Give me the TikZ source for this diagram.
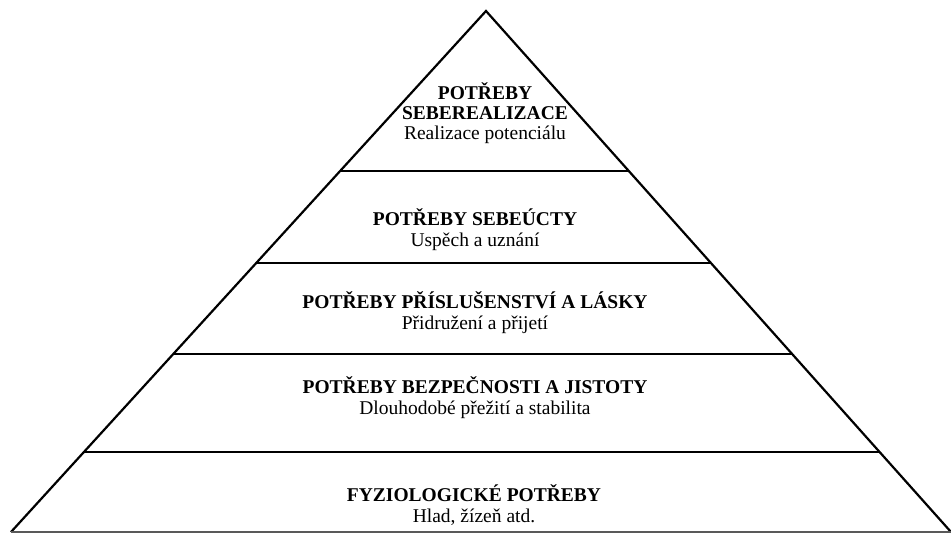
\documentclass[tikz,border=0pt]{standalone}
\usepackage{fontspec}
\setmainfont{Liberation Serif}
\usetikzlibrary{calc}
\tikzset{
  edge/.style={line width=2.2pt, black},
  baseedge/.style={line width=1.6pt, black!65},
  lvl/.style={align=center, anchor=base, inner sep=0pt,
    font=\fontsize{19.5}{21}\selectfont},
}
\begin{document}
\begin{tikzpicture}[x=1pt,y=-1pt]
\useasboundingbox (0,0) rectangle (951,534);
\coordinate (A) at (486,11);
\coordinate (BL) at (11,532);
\coordinate (BR) at (951,532);
% sides
\draw[edge, line join=miter] (BL) -- (A) -- (BR);
\draw[baseedge] (BL) -- (BR);
% dividing lines
\foreach \t/\n in {0.3071/a,0.4837/b,0.6583/c,0.8464/d}{
  \coordinate (L\n) at ($(A)!\t!(BL)$);
  \coordinate (R\n) at ($(A)!\t!(BR)$);
  \draw[edge] (L\n) -- (R\n);
}
% texts (anchor = baseline of the last line)
\node[lvl, font=\fontsize{19.5}{20.3}\selectfont] (t1) at (485,140) {\textbf{POTŘEBY}\\\textbf{SEBEREALIZACE}\\Realizace potenciálu};
\node[lvl] (t2) at (475,247) {\textbf{POTŘEBY SEBEÚCTY}\\Uspěch a uznání};
\node[lvl] (t3) at (475,330) {\textbf{POTŘEBY PŘÍSLUŠENSTVÍ A LÁSKY}\\Přidružení a přijetí};
\node[lvl] (t4) at (475,415) {\textbf{POTŘEBY BEZPEČNOSTI A JISTOTY}\\Dlouhodobé přežití a stabilita};
\node[lvl] (t5) at (474,522) {\textbf{FYZIOLOGICKÉ POTŘEBY}\\Hlad, žízeň atd.};
\end{tikzpicture}
\end{document}
